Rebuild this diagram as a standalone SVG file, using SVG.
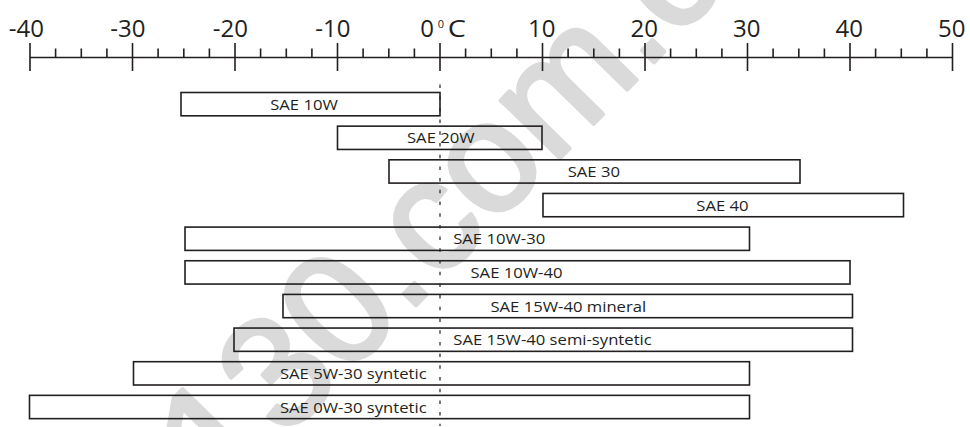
<svg xmlns="http://www.w3.org/2000/svg" width="970" height="427" viewBox="0 0 970 427">
<style>
.ax{stroke:#231f20;stroke-width:1.6;fill:none}
.box{fill:none;stroke:#231f20;stroke-width:1.6}
.lbl{font-family:"Open Sans","Noto Sans",sans-serif;font-size:14px;fill:#231f20;text-anchor:middle}
.num{font-family:"Open Sans","Noto Sans",sans-serif;font-size:24px;fill:#231f20;text-anchor:end}
.zero{stroke:#231f20;stroke-width:1.2;stroke-dasharray:3.5 8.2;fill:none}
.wm{font-family:"Liberation Sans",Arial,sans-serif;font-size:157px;fill:#dadada;stroke:#dadada;stroke-width:4;stroke-linejoin:round}
</style>
<rect width="970" height="427" fill="#fff"/>
<g id="watermark"><text class="wm" transform="translate(222.6 502.7) rotate(-45.6)">130.com.c</text></g>
<g id="axis">
<path class="ax" d="M30 57.5H952.5"/>
<path class="ax" d="M30 43V71M132.5 43V71M235 43V71M337.5 43V71M440 43V71M542.5 43V71M645 43V71M747.5 43V71M850 43V71M952.5 43V71"/>
<path class="ax" d="M55.6 48.5V57.5M81.3 48.5V57.5M106.9 48.5V57.5M158.1 48.5V57.5M183.8 48.5V57.5M209.4 48.5V57.5M260.6 48.5V57.5M286.3 48.5V57.5M311.9 48.5V57.5M363.1 48.5V57.5M388.8 48.5V57.5M414.4 48.5V57.5M465.6 48.5V57.5M491.3 48.5V57.5M516.9 48.5V57.5M568.1 48.5V57.5M593.8 48.5V57.5M619.4 48.5V57.5M670.6 48.5V57.5M696.3 48.5V57.5M721.9 48.5V57.5M773.1 48.5V57.5M798.8 48.5V57.5M824.4 48.5V57.5M875.6 48.5V57.5M901.3 48.5V57.5M926.9 48.5V57.5"/>
<text class="num" x="44" y="36.5">-40</text>
<text class="num" x="145.5" y="36.5">-30</text>
<text class="num" x="248" y="36.5">-20</text>
<text class="num" x="350.5" y="36.5">-10</text>
<text class="num" x="434" y="36.5">0</text>
<text class="num" x="444" y="28" style="font-size:11px">0</text>
<text class="num" transform="translate(466 36.5) scale(1.2 1)">C</text>
<text class="num" x="555.5" y="36.5">10</text>
<text class="num" x="658" y="36.5">20</text>
<text class="num" x="760.5" y="36.5">30</text>
<text class="num" x="863" y="36.5">40</text>
<text class="num" x="965.5" y="36.5">50</text>
</g>
<g id="sae10w"><rect class="box" x="181" y="92.5" width="259" height="23.3"/><text class="lbl" transform="translate(304 109.8) scale(1.19 1)">SAE 10W</text></g>
<g id="sae20w"><rect class="box" x="337.5" y="126.15" width="204.5" height="23.3"/><text class="lbl" transform="translate(440.8 143.45) scale(1.19 1)">SAE 20W</text></g>
<g id="sae30"><rect class="box" x="389" y="159.8" width="411" height="23.3"/><text class="lbl" transform="translate(593.8 177.1) scale(1.19 1)">SAE 30</text></g>
<g id="sae40"><rect class="box" x="543" y="193.45" width="360.5" height="23.3"/><text class="lbl" transform="translate(722.5 210.75) scale(1.19 1)">SAE 40</text></g>
<g id="sae10w30"><rect class="box" x="185" y="227.1" width="564.5" height="23.3"/><text class="lbl" transform="translate(499.2 244.4) scale(1.19 1)">SAE 10W-30</text></g>
<g id="sae10w40"><rect class="box" x="185" y="260.75" width="665" height="23.3"/><text class="lbl" transform="translate(516.5 278.05) scale(1.19 1)">SAE 10W-40</text></g>
<g id="sae15w40m"><rect class="box" x="283" y="294.4" width="569.5" height="23.3"/><text class="lbl" transform="translate(568.3 311.7) scale(1.19 1)">SAE 15W-40 mineral</text></g>
<g id="sae15w40s"><rect class="box" x="234" y="328.05" width="618.5" height="23.3"/><text class="lbl" transform="translate(552.5 345.35) scale(1.19 1)">SAE 15W-40 semi-syntetic</text></g>
<g id="sae5w30"><rect class="box" x="133.5" y="361.7" width="616" height="23.3"/><text class="lbl" transform="translate(353.3 379) scale(1.19 1)">SAE 5W-30 syntetic</text></g>
<g id="sae0w30"><rect class="box" x="29.5" y="395.35" width="720" height="23.3"/><text class="lbl" transform="translate(353.3 412.65) scale(1.19 1)">SAE 0W-30 syntetic</text></g>
<g id="connectors"><path class="zero" d="M440 84.5V426"/></g>
</svg>
